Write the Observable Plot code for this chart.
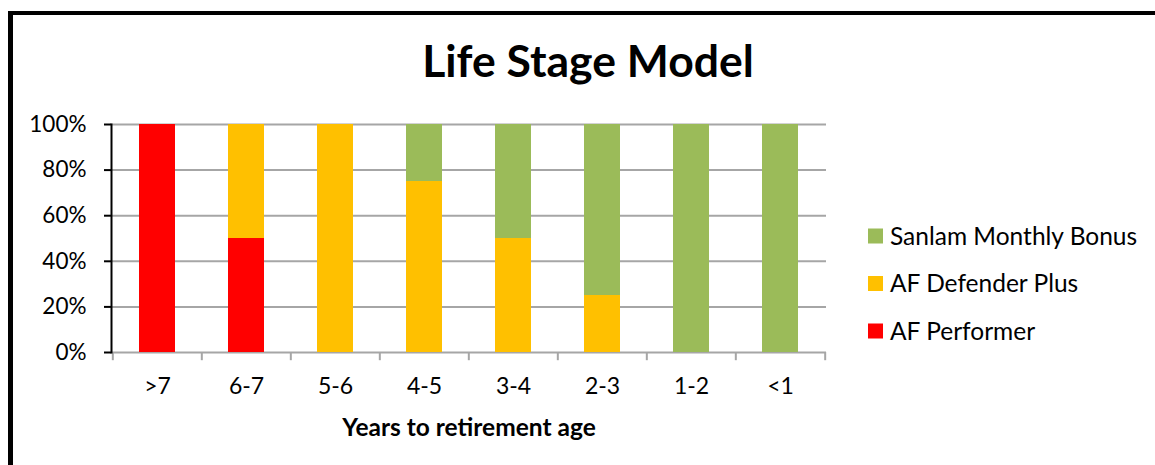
<!DOCTYPE html>
<html>
<head>
<meta charset="utf-8">
<script src="https://cdn.jsdelivr.net/npm/d3@7"></script>
<script src="https://cdn.jsdelivr.net/npm/@observablehq/plot@0.6"></script>
<style>
  html, body { margin: 0; padding: 0; background: #fff; }
  #wrap { position: relative; width: 1155px; height: 465px; overflow: hidden; font-family: Lato, sans-serif; }
  #frame { position: absolute; left: 8px; top: 11px; width: 2000px; height: 2000px; border-left: 5px solid #000; border-top: 4px solid #000; box-sizing: border-box; }
  #chart, #overlay { position: absolute; left: 0; top: 0; }
</style>
</head>
<body>
<div id="wrap">
  <div id="frame"></div>
  <div id="chart"></div>
  <svg id="overlay" width="1155" height="465"></svg>
</div>
<script>
// ---- data ----
const categories = [">7", "6-7", "5-6", "4-5", "3-4", "2-3", "1-2", "<1"];
const seriesNames = ["AF Performer", "AF Defender Plus", "Sanlam Monthly Bonus"];
const afPerformer = [100, 50, 0, 0, 0, 0, 0, 0];
const afDefenderPlus = [0, 50, 100, 75, 50, 25, 0, 0];
const sanlamMonthlyBonus = [0, 0, 0, 25, 50, 75, 100, 100];
const seriesColors = ["#FF0000", "#FFC000", "#9BBB59"];
const yTicks = [0, 20, 40, 60, 80, 100];
const titleText = "Life Stage Model";
const xLabel = "Years to retirement age";

const seriesValues = [afPerformer, afDefenderPlus, sanlamMonthlyBonus];
const rows = [];
categories.forEach((c, i) => {
  seriesNames.forEach((s, j) => rows.push({cat: c, series: s, value: seriesValues[j][i]}));
});

const W = 1155, H = 465;
const mL = 111, mR = 329, mT = 124, mB = 113;
const step = (W - mL - mR) / categories.length;
const grid = "#a6a6a6";

const chart = Plot.plot({
  width: W, height: H,
  marginLeft: mL, marginRight: mR, marginTop: mT, marginBottom: mB,
  style: {fontFamily: "Lato, sans-serif", background: "transparent", color: "#000"},
  x: {domain: categories, paddingInner: 0.6, paddingOuter: 0.3},
  y: {domain: [0, 100]},
  color: {domain: seriesNames, range: seriesColors},
  marks: [
    Plot.gridY(yTicks, {stroke: grid, strokeOpacity: 1, strokeWidth: 2}),
    Plot.barY(rows, {x: "cat", y: "value", fill: "series"}),
    Plot.ruleX(categories, {x: d => d, y1: 0, y2: -3.6, dx: -step / 2, stroke: grid, strokeWidth: 2}),
    Plot.ruleX([categories[categories.length - 1]], {x: d => d, y1: 0, y2: -3.6, dx: step / 2, stroke: grid, strokeWidth: 2}),
    Plot.frame({anchor: "left", stroke: "#000", strokeWidth: 2}),
    Plot.axisY(yTicks, {tickFormat: d => d + "%", tickSize: 7, tickPadding: 18, fontSize: 22.5, label: null, stroke: "#000", strokeWidth: 2}),
    Plot.axisX({tickSize: 0, tickPadding: 25, fontSize: 23, label: null}),
    Plot.text([xLabel], {frameAnchor: "bottom", lineAnchor: "middle", dy: 76, fontSize: 24.5, fontWeight: "bold", fill: "#000"})
  ]
});
document.getElementById("chart").appendChild(chart);

// ---- title & legend ----
const ov = d3.select("#overlay").style("font-family", "Lato, sans-serif");
ov.append("text").attr("x", 588).attr("y", 77).attr("text-anchor", "middle")
  .attr("font-size", 44.5).attr("font-weight", "bold").attr("fill", "#000").text(titleText);

const legendOrder = ["Sanlam Monthly Bonus", "AF Defender Plus", "AF Performer"];
const colorOf = Object.fromEntries(seriesNames.map((s, i) => [s, seriesColors[i]]));
legendOrder.forEach((s, i) => {
  const cy = 236 + i * 47.5;
  ov.append("rect").attr("x", 868).attr("y", cy - 7.5).attr("width", 15).attr("height", 15).attr("fill", colorOf[s]);
  ov.append("text").attr("x", 890).attr("y", cy).attr("dy", "0.35em").attr("font-size", 24.5).attr("fill", "#000").text(s);
});
</script>
</body>
</html>
